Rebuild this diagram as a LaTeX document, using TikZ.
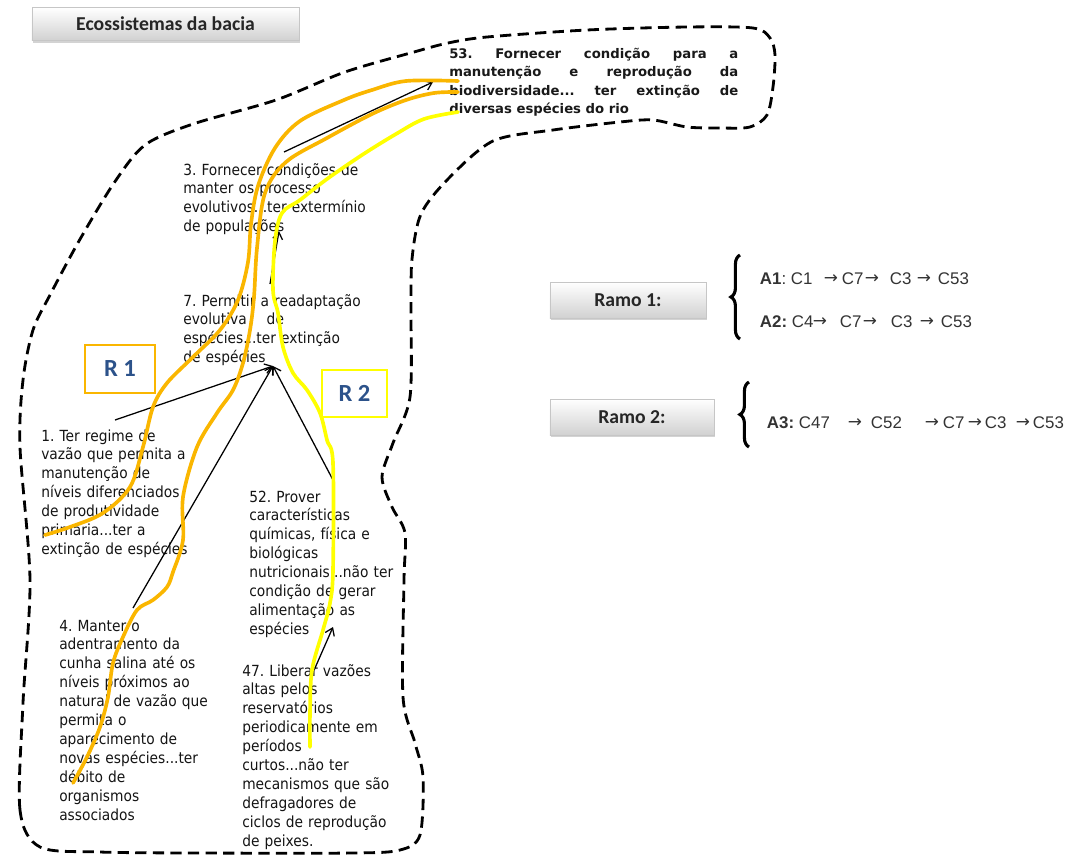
\documentclass[tikz,border=0pt]{standalone}
\usepackage{fontspec}
\setmainfont{DejaVu Sans}
\newfontfamily\nodefont[FakeStretch=0.9]{DejaVu Sans}
\newfontfamily\topfont{DejaVu Sans}
\newfontfamily\boxfont{Carlito}
\newfontfamily\arfont{Liberation Sans}
\usetikzlibrary{arrows.meta,decorations.pathreplacing,shadows}
\definecolor{hlorange}{RGB}{250,182,0}
\definecolor{hlyellow}{RGB}{255,255,0}
\definecolor{rblue}{RGB}{44,82,138}
\newlength{\pxu}\setlength{\pxu}{0.025cm}
\newcommand{\tokat}[2]{\makebox[0pt][l]{\hspace*{#1\pxu}#2}}
\newcommand{\myarr}{{\topfont\fontsize{12}{12}\selectfont\raisebox{0.3pt}{→}}}
\frenchspacing
\begin{document}
\begin{tikzpicture}[x=0.025cm, y=-0.025cm,
  ntext/.style={anchor=base west, inner sep=0pt, text width=5cm, align=left,
    font=\nodefont\fontsize{10.9}{13.45}\selectfont\frenchspacing, text=black!92},
  graybox/.style={draw=gray!45, line width=0.5pt, top color=white, bottom color=black!18,
    drop shadow={shadow xshift=0.5pt, shadow yshift=-1.5pt, opacity=0.35}, inner sep=0pt,
    font=\boxfont\bfseries\fontsize{14}{16}\selectfont, text=black!85},
  rbox/.style={line width=2.1pt, inner sep=0pt, font=\boxfont\bfseries\fontsize{17.5}{20}\selectfont, text=rblue},
  conn/.style={-{Straight Barb[length=5pt,width=7pt]}, line width=0.9pt, black},
  hl/.style={line width=2.6pt, line cap=round, line join=round},
  bound/.style={line width=2pt, dash pattern=on 8pt off 4.5pt},
  aline/.style={anchor=base west, inner sep=0pt, font=\arfont\fontsize{12}{14}\selectfont, text=black!80},
  brc/.style={decorate, decoration={brace, amplitude=6.5pt}, line width=2.2pt}
]
\useasboundingbox (0,0) rectangle (1076,856);

% dashed boundary
\draw[bound] plot[smooth cycle, tension=0.5] coordinates {
 (40,847) (20,810) (23,703) (30,580) (20,447) (23,380) (33,330) (50,295) (79,241)
 (114,183) (145,145) (193,124) (276,100) (345,72) (414,52) (448,43) (487,37)
 (587,30) (687,27) (753,28) (770,38) (775,55) (773,87) (767,115) (750,127)
 (720,128) (687,127) (653,120) (620,122) (553,130) (493,141) (448,179) (421,214)
 (412,259) (411,310) (410,397) (393,443) (382,477) (392,507) (405,533) (404,580)
 (403,697) (415,743) (423,777) (420,835) (400,850) (353,853) (200,853) (100,852)};

% title and branch boxes
\node[graybox, minimum width=6.675cm, minimum height=0.82cm] (title) at (165.5,24) {Ecossistemas da bacia};
\node[graybox, minimum width=3.9cm, minimum height=0.9cm] (ramo1) at (628,300) {Ramo 1:};
\node[graybox, minimum width=4.1cm, minimum height=0.9cm] (ramo2) at (632,417) {Ramo 2:};

% concept texts
\node[anchor=base west, inner sep=0pt, text width=7.225cm, align=justify,
  font=\topfont\bfseries\fontsize{9.4}{13.2}\selectfont\frenchspacing, text=black!90] (n53) at (449,58)
  {53. Fornecer condição para a\linebreak manutenção e reprodução da\linebreak biodiversidade... ter extinção de\linebreak diversas espécies do rio};
\node[ntext] (n3) at (183,175) {3. Fornecer condições de\\manter os processo\\evolutivos...ter extermínio\\de populações};
\node[ntext] (n7) at (183,306) {7. Permitir a readaptação\\evolutiva\hspace{1.3em}de\\espécies...ter extinção\\de espécies};
\node[ntext] (n1) at (41,441) {1. Ter regime de\\vazão que permita a\\manutenção de\\níveis diferenciados\\de produtividade\\primaria...ter a\\extinção de espécies};
\node[ntext] (n52) at (249,502) {52. Prover\\características\\químicas, física e\\biológicas\\nutricionais...não ter\\condição de gerar\\alimentação as\\espécies};
\node[ntext] (n4) at (59,631) {4. Manter o\\adentramento da\\cunha salina até os\\níveis próximos ao\\natural de vazão que\\permita o\\aparecimento de\\novas espécies...ter\\débito de\\organismos\\associados};
\node[ntext] (n47) at (242,676) {47. Liberar vazões\\altas pelos\\reservatórios\\periodicamente em\\períodos\\curtos...não ter\\mecanismos que são\\defragadores de\\ciclos de reprodução\\de peixes.};

% connector end points
\coordinate (c3out) at (284,152);
\coordinate (c53in) at (433,82);
\coordinate (c7out) at (270,284);
\coordinate (c3in) at (279,231);
\coordinate (c1out) at (115,420);
\coordinate (c4out) at (133,608);
\coordinate (c52out) at (333,480);
\coordinate (c7in) at (273,366);
\coordinate (c47out) at (315,668);
\coordinate (c52in) at (333,627);

\draw[conn] (c3out) -- (c53in);
\draw[conn] (c7out) -- (c3in);
\draw[conn] (c1out) -- (c7in);
\draw[conn] (c4out) -- (c7in);
\draw[conn] (c52out) -- (c7in);
\draw[conn] (c47out) -- (c52in);

% highlighted routes
\draw[hl, hlorange] plot[smooth, tension=0.55] coordinates {
 (45,535) (70,527) (103,513) (130,487) (143,447) (153,407) (167,383) (193,357)
 (220,330) (238,300) (248,262) (251,224) (258,186) (275,148) (300,121) (344,100)
 (372,90) (406,81) (458,81)};
\draw[hl, hlorange] plot[smooth, tension=0.55] coordinates {
 (73,783) (87,757) (100,727) (108,697) (113,663) (123,637) (137,610) (153,600)
 (167,587) (173,572) (183,540) (183,497) (197,447) (217,413) (233,390) (243,363)
 (250,330) (254,297) (257,248) (265,193) (286,162) (327,138) (372,114) (406,100)
 (434,93) (458,92)};
\draw[hl, hlyellow] plot[smooth, tension=0.55] coordinates {
 (310,747) (310,713) (312,670) (323,630) (330,603) (333,570) (333,463) (327,440)
 (320,413) (307,390) (293,373) (283,347) (278,313) (273,290) (275,241) (282,213)
 (300,200) (327,179) (362,155) (396,134) (424,119) (458,112)};

% route labels
\node[rbox, draw=hlorange, minimum width=1.75cm, minimum height=1.2cm] (r1) at (120,369) {R 1};
\node[rbox, draw=hlyellow, minimum width=1.625cm, minimum height=1.175cm] (r2) at (354.5,393.5) {R 2};

% braces
\draw[brc] (740,339) -- (740,255);
\draw[brc] (749,447) -- (749,382);

% paths
\node[aline] (a1) at (759,284) {\tokat{0}{\textbf{A1}:}\tokat{31}{C1}\tokat{64}{\myarr}\tokat{82}{C7}\tokat{105}{\myarr}\tokat{130}{C3}\tokat{157}{\myarr}\tokat{178}{C53}};
\node[aline] (a2) at (759,327) {\tokat{0}{\textbf{A2:}}\tokat{32}{C4}\tokat{53}{\myarr}\tokat{80}{C7}\tokat{103}{\myarr}\tokat{131}{C3}\tokat{160}{\myarr}\tokat{181}{C53}};
\node[aline] (a3) at (766,428) {\tokat{0}{\textbf{A3:}}\tokat{32}{C47}\tokat{81}{\myarr}\tokat{104}{C52}\tokat{158}{\myarr}\tokat{176}{C7}\tokat{201}{\myarr}\tokat{218}{C3}\tokat{249}{\myarr}\tokat{266}{C53}};
\end{tikzpicture}
\end{document}
